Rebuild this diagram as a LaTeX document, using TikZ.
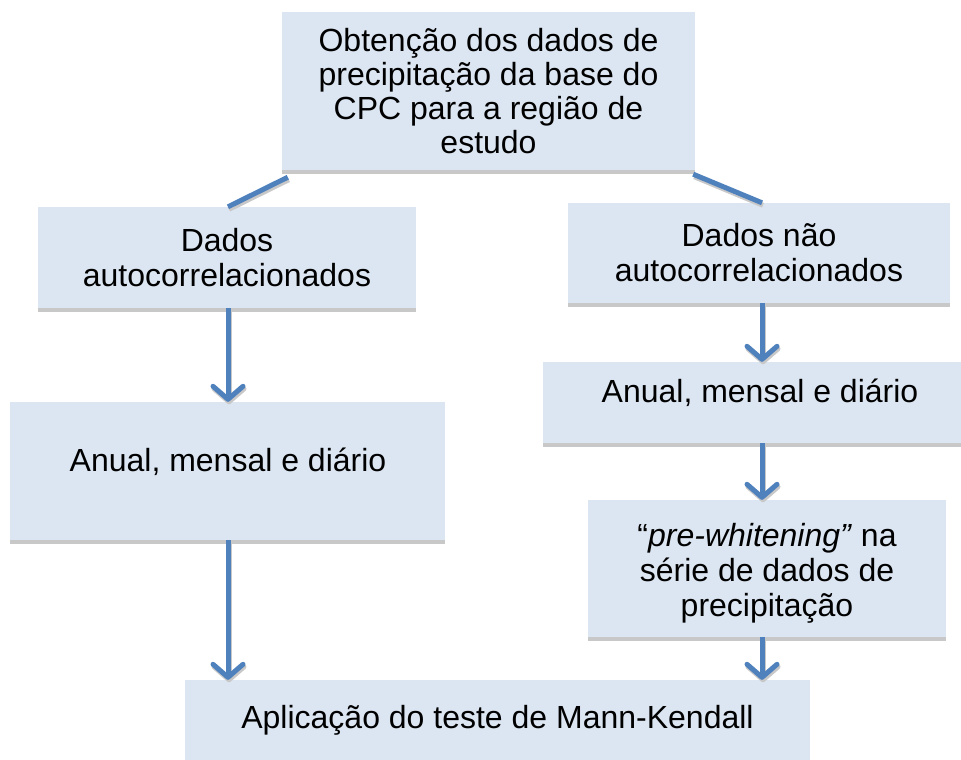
\documentclass[tikz,border=0pt]{standalone}
\usepackage{fontspec}
\setmainfont{Liberation Sans}
\usetikzlibrary{arrows.meta}
\definecolor{boxfill}{HTML}{DCE6F2}
\definecolor{shadowgray}{HTML}{C8C8C8}
\definecolor{arrowblue}{HTML}{4F81BD}
\begin{document}
\begin{tikzpicture}[x=1pt,y=-1pt,
  box/.style={fill=boxfill, draw=none, inner sep=0pt, align=center,
    font=\fontsize{32}{34}\selectfont,
    preaction={fill=shadowgray, transform canvas={yshift=-4pt}}},
  txt/.style={inner sep=0pt, align=center, font=\fontsize{32}{35}\selectfont},
  conn/.style={draw=arrowblue, line width=5pt,
    preaction={draw=shadowgray, line width=5pt, transform canvas={xshift=1pt,yshift=-2.5pt}}},
  arr/.style={conn, -{Straight Barb[length=13pt,width=30pt,round]}}]
\useasboundingbox (0,0) rectangle (961,760);
\node[box, minimum width=413pt, minimum height=158pt] (top) at (488.5,91) {Obtenção dos dados de\\precipitação da base do\\CPC para a região de\\estudo};
\node[box, minimum width=378pt, minimum height=101pt, font=\fontsize{32}{35}\selectfont] (l1) at (227,257.5) {Dados\\autocorrelacionados};
\node[box, minimum width=382pt, minimum height=100pt, font=\fontsize{32}{35}\selectfont] (r1) at (759,253) {Dados não\\autocorrelacionados};
\node[box, minimum width=418pt, minimum height=81pt] (r2) at (752,402.5) {};
\node[txt] (r2t) at (760,393) {Anual, mensal e diário};
\node[box, minimum width=435pt, minimum height=138pt] (l2) at (227.5,471) {};
\node[txt] (l2t) at (228,462) {Anual, mensal e diário};
\node[box, minimum width=358pt, minimum height=137pt] (pw) at (767,568.5) {};
\node[txt] (pwt) at (767,573) {“\textit{pre-whitening”} na\\série de dados de\\precipitação};
\node[box, minimum width=625pt, minimum height=80pt] (bot) at (497.5,720) {Aplicação do teste de Mann-Kendall};
\coordinate (lx) at (228,0);
\coordinate (rx) at (762,0);
\coordinate (topl) at ([xshift=6pt,yshift=-7pt]top.south west);
\coordinate (topr) at ([xshift=-2pt,yshift=-4pt]top.south east);
\draw[conn] (topl) -- (lx |- l1.north);
\draw[conn] (topr) -- (rx |- r1.north);
\draw[arr] (lx |- l1.south) -- (lx |- l2.north);
\draw[arr] (lx |- l2.south) -- (lx |- bot.north);
\draw[arr] (rx |- r1.south) -- (rx |- r2.north);
\draw[arr] (rx |- r2.south) -- (rx |- pw.north);
\draw[arr] (rx |- pw.south) -- (rx |- bot.north);
\end{tikzpicture}
\end{document}
